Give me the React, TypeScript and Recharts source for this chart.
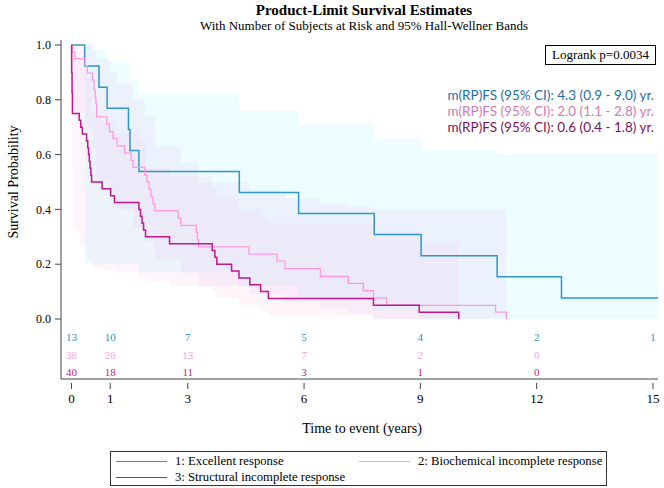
import { ComposedChart, Line, Area, Scatter, XAxis, YAxis } from "recharts";

// x axis / risk table times (years)
const xTicks = [0, 1, 3, 6, 9, 12, 15];
const yTicks = [0, 0.2, 0.4, 0.6, 0.8, 1.0];

// 1: Excellent response
const g1Times = [0, 0.34, 0.71, 0.92, 1.47, 1.51, 1.74, 4.33, 5.86, 7.81, 9.02, 10.98, 12.64, 15.13];
const g1Surv = [1, 0.923, 0.846, 0.769, 0.692, 0.615, 0.538, 0.462, 0.385, 0.308, 0.231, 0.154, 0.077, 0.077];
const g1BandTimes = [0.34, 0.57, 0.92, 1.5, 1.74, 4.33, 5.86, 7.81, 9.02, 10.98, 12.64, 15.13];
const g1BandLow = [0.2, 0.2, 0.2, 0.2, 0.17, 0.12, 0.07, 0.03, 0, 0, 0, 0];
const g1BandHigh = [1.0, 0.98, 0.94, 0.87, 0.82, 0.76, 0.71, 0.657, 0.617, 0.6, 0.6, 0.6];

// 2: Biochemical incomplete response
const g2Times = [
  0, 0.02, 0.09, 0.35, 0.41, 0.54, 0.58, 0.61, 0.63, 0.65, 0.91, 0.98, 1.07, 1.18, 1.37,
  1.54, 1.59, 1.89, 1.95, 2.0, 2.05, 2.1, 2.15, 2.75, 2.82, 3.22, 3.25, 3.28, 4.58, 5.3,
  5.51, 6.42, 7.14, 7.53, 7.79, 8.13, 10.94, 11.22,
];
const g2Surv = [
  1, 0.974, 0.95, 0.925, 0.897, 0.872, 0.836, 0.81, 0.787, 0.738, 0.711, 0.684, 0.658, 0.632, 0.605,
  0.579, 0.553, 0.526, 0.5, 0.474, 0.447, 0.421, 0.395, 0.368, 0.342, 0.316, 0.289, 0.263, 0.237, 0.211,
  0.184, 0.155, 0.13, 0.103, 0.077, 0.05, 0.025, 0,
];
const g2BandTimes = [0.02, 0.09, 0.35, 0.54, 0.65, 0.98, 1.18, 1.59, 1.89, 2.15, 2.82, 3.28, 4.58, 5.51, 6.42, 7.14, 7.79, 8.13, 11.22];
const g2BandLow = [0.8, 0.75, 0.7, 0.62, 0.5, 0.45, 0.4, 0.33, 0.28, 0.22, 0.17, 0.12, 0.09, 0.06, 0.04, 0.02, 0, 0, 0];
const g2BandHigh = [1.0, 1.0, 1.0, 0.98, 0.95, 0.9, 0.86, 0.8, 0.74, 0.63, 0.57, 0.5, 0.47, 0.44, 0.42, 0.41, 0.4, 0.4, 0.4];

// 3: Structural incomplete response
const g3Times = [
  0, 0.005, 0.015, 0.025, 0.2, 0.24, 0.28, 0.39, 0.42, 0.44, 0.46, 0.48, 0.5, 0.52, 0.79,
  1.01, 1.11, 1.74, 1.78, 1.82, 1.86, 1.91, 2.53, 3.63, 3.7, 3.75, 4.13, 4.32, 4.6, 4.88,
  5.08, 7.79, 8.97, 9.99,
];
const g3Surv = [
  1, 0.9, 0.825, 0.75, 0.725, 0.7, 0.675, 0.65, 0.625, 0.6, 0.575, 0.55, 0.525, 0.5, 0.475,
  0.45, 0.425, 0.4, 0.375, 0.35, 0.325, 0.3, 0.275, 0.25, 0.225, 0.2, 0.175, 0.15, 0.125, 0.1,
  0.075, 0.05, 0.025, 0,
];
const g3BandTimes = [0.005, 0.03, 0.23, 0.39, 0.52, 0.79, 1.11, 1.74, 1.91, 2.53, 3.63, 3.75, 4.32, 4.88, 5.08, 7.79, 8.97, 9.99];
const g3BandLow = [0.55, 0.32, 0.27, 0.22, 0.19, 0.18, 0.17, 0.15, 0.136, 0.12, 0.105, 0.077, 0.05, 0.027, 0.01, 0, 0, 0];
const g3BandHigh = [1.0, 0.95, 0.92, 0.88, 0.75, 0.72, 0.68, 0.65, 0.55, 0.52, 0.48, 0.44, 0.4, 0.37, 0.35, 0.32, 0.28, 0.28];

// number of subjects at risk
const riskTimes = [0, 1, 3, 6, 9, 12, 15];
const g1Risk = [13, 10, 7, 5, 4, 2, 1];
const g2Risk = [38, 26, 13, 7, 2, 0];
const g3Risk = [40, 18, 11, 3, 1, 0];

const groupNames = ["1: Excellent response", "2: Biochemical incomplete response", "3: Structural incomplete response"];
const medianLabels = [
  "m(RP)FS (95% CI): 4.3 (0.9 - 9.0) yr.",
  "m(RP)FS (95% CI): 2.0 (1.1 - 2.8) yr.",
  "m(RP)FS (95% CI): 0.6 (0.4 - 1.8) yr.",
];

const BLUE = "#2f96c8";
const PINK = "#ff99dd";
const MAGENTA = "#c4168c";
const FRAME = "#444";
const SERIF = "'Liberation Serif', 'Times New Roman', serif";

const steps = (times: number[], surv: number[]) => times.map((t, i) => ({ t, s: surv[i] }));
const band = (times: number[], low: number[], high: number[]) =>
  times.map((t, i) => ({ t, band: [low[i], high[i]] }));
const riskRow = (counts: number[], row: number) =>
  counts.map((n, i) => ({ t: riskTimes[i], y: row, n }));

// rows of the risk table, in survival units below 0
const ROW_Y = [-0.068, -0.133, -0.193];

const XTick = ({ x, y, payload }: any) => (
  <g>
    <line x1={x} x2={x} y1={y + 4} y2={y + 10} stroke={FRAME} />
    <text x={x} y={y + 24} textAnchor="middle" fontSize={13} fontFamily={SERIF} fill="#000">
      {payload.value}
    </text>
  </g>
);

const riskShape = (color: string, label: string) => (p: any) => (
  <g>
    {p.payload.t === 0 && (
      <text x={p.cx - 25.5} y={p.cy} dy="0.35em" textAnchor="middle" fontSize={14} fontFamily={SERIF} fill={color}>
        {label}
      </text>
    )}
    <text x={p.cx} y={p.cy} dy="0.35em" textAnchor="middle" fontSize={11} fontFamily={SERIF} fill={color}>
      {p.payload.n}
    </text>
  </g>
);

export default function App() {
  return (
    <div style={{ position: "absolute", left: 0, top: 0, width: 664, height: 488, background: "#fff", fontFamily: SERIF }}>
      <ComposedChart width={664} height={488} margin={{ top: 40, right: 6, bottom: 79, left: 11 }}>
        <XAxis
          type="number"
          dataKey="t"
          domain={[-0.27, 15.13]}
          allowDataOverflow
          ticks={xTicks}
          interval={0}
          height={30}
          axisLine={{ stroke: FRAME }}
          tickLine={false}
          tickSize={0}
          tickMargin={0}
          tick={<XTick />}
        />
        <XAxis xAxisId="top" orientation="top" type="number" domain={[-0.27, 15.13]} height={0} tick={false} tickLine={false} axisLine={{ stroke: FRAME }} />
        <YAxis
          type="number"
          domain={[-0.219, 1.0182]}
          allowDataOverflow
          ticks={yTicks}
          interval={0}
          width={50}
          tickFormatter={(v) => v.toFixed(1)}
          axisLine={{ stroke: FRAME }}
          tickLine={{ stroke: FRAME }}
          tickSize={6}
          tickMargin={4}
          tick={{ fill: "#000", fontSize: 12, fontFamily: SERIF }}
        />
        <YAxis yAxisId="right" orientation="right" type="number" domain={[0, 1]} width={0} tick={false} tickLine={false} axisLine={{ stroke: FRAME }} />

        <Area data={band(g1BandTimes, g1BandLow, g1BandHigh)} dataKey="band" type="stepAfter" stroke="none" fill="#ccfaff" fillOpacity={0.35} isAnimationActive={false} />
        <Area data={band(g2BandTimes, g2BandLow, g2BandHigh)} dataKey="band" type="stepAfter" stroke="none" fill="#e0a8f0" fillOpacity={0.12} isAnimationActive={false} />
        <Area data={band(g3BandTimes, g3BandLow, g3BandHigh)} dataKey="band" type="stepAfter" stroke="none" fill="#f5b0e0" fillOpacity={0.12} isAnimationActive={false} />

        <Line data={steps(g1Times, g1Surv)} dataKey="s" type="stepAfter" stroke={BLUE} strokeWidth={1.5} dot={false} isAnimationActive={false} />
        <Line data={steps(g2Times, g2Surv)} dataKey="s" type="stepAfter" stroke={PINK} strokeWidth={1.3} dot={false} isAnimationActive={false} />
        <Line data={steps(g3Times, g3Surv)} dataKey="s" type="stepAfter" stroke={MAGENTA} strokeWidth={1.5} dot={false} isAnimationActive={false} />

        <Scatter data={riskRow(g1Risk, ROW_Y[0])} dataKey="y" shape={riskShape("#2a92c5", "1")} isAnimationActive={false} />
        <Scatter data={riskRow(g2Risk, ROW_Y[1])} dataKey="y" shape={riskShape("#f8a2da", "2")} isAnimationActive={false} />
        <Scatter data={riskRow(g3Risk, ROW_Y[2])} dataKey="y" shape={riskShape("#c8208a", "3")} isAnimationActive={false} />
      </ComposedChart>

      <div style={{ position: "absolute", left: 364, top: 2, transform: "translateX(-50%)", whiteSpace: "nowrap", fontSize: 15, lineHeight: "16px", fontWeight: "bold" }}>
        Product-Limit Survival Estimates
      </div>
      <div style={{ position: "absolute", left: 364, top: 18, transform: "translateX(-50%)", whiteSpace: "nowrap", fontSize: 13, lineHeight: "16px" }}>
        With Number of Subjects at Risk and 95% Hall-Wellner Bands
      </div>
      <div style={{ position: "absolute", left: 14, top: 182, transform: "translate(-50%, -50%) rotate(-90deg)", whiteSpace: "nowrap", fontSize: 14 }}>
        Survival Probability
      </div>
      <div style={{ position: "absolute", left: 362, top: 429, transform: "translate(-50%, -50%)", whiteSpace: "nowrap", fontSize: 14 }}>
        Time to event (years)
      </div>

      <div style={{ position: "absolute", left: 545, top: 45, width: 109, height: 18, border: "1px solid #000", fontSize: 13, lineHeight: "18px", textAlign: "center", background: "#fff" }}>
        Logrank p=0.0034
      </div>
      {medianLabels.map((m, i) => (
        <div key={m} style={{ position: "absolute", right: 10, top: 87 + i * 16, whiteSpace: "nowrap", fontSize: 13.5, lineHeight: "16px", fontFamily: "Lato, 'Liberation Sans', sans-serif", color: ["#1f6ea6", "#cf7bb5", "#7a1457"][i] }}>
          {m}
        </div>
      ))}

      <div style={{ position: "absolute", left: 110, top: 451, width: 495, height: 33, border: "1px solid #333", fontSize: 12.7 }}>
        {groupNames.map((g, i) => (
          <div key={g} style={{ position: "absolute", left: i === 1 ? 248 : 5, top: i === 2 ? 18 : 2, display: "flex", alignItems: "center", whiteSpace: "nowrap", lineHeight: "15px" }}>
            <span style={{ display: "inline-block", width: 51, height: 0, borderTop: `${i === 1 ? 1 : 1.5}px solid ${[BLUE, PINK, MAGENTA][i]}`, marginRight: 8 }} />
            {g}
          </div>
        ))}
      </div>
    </div>
  );
}
